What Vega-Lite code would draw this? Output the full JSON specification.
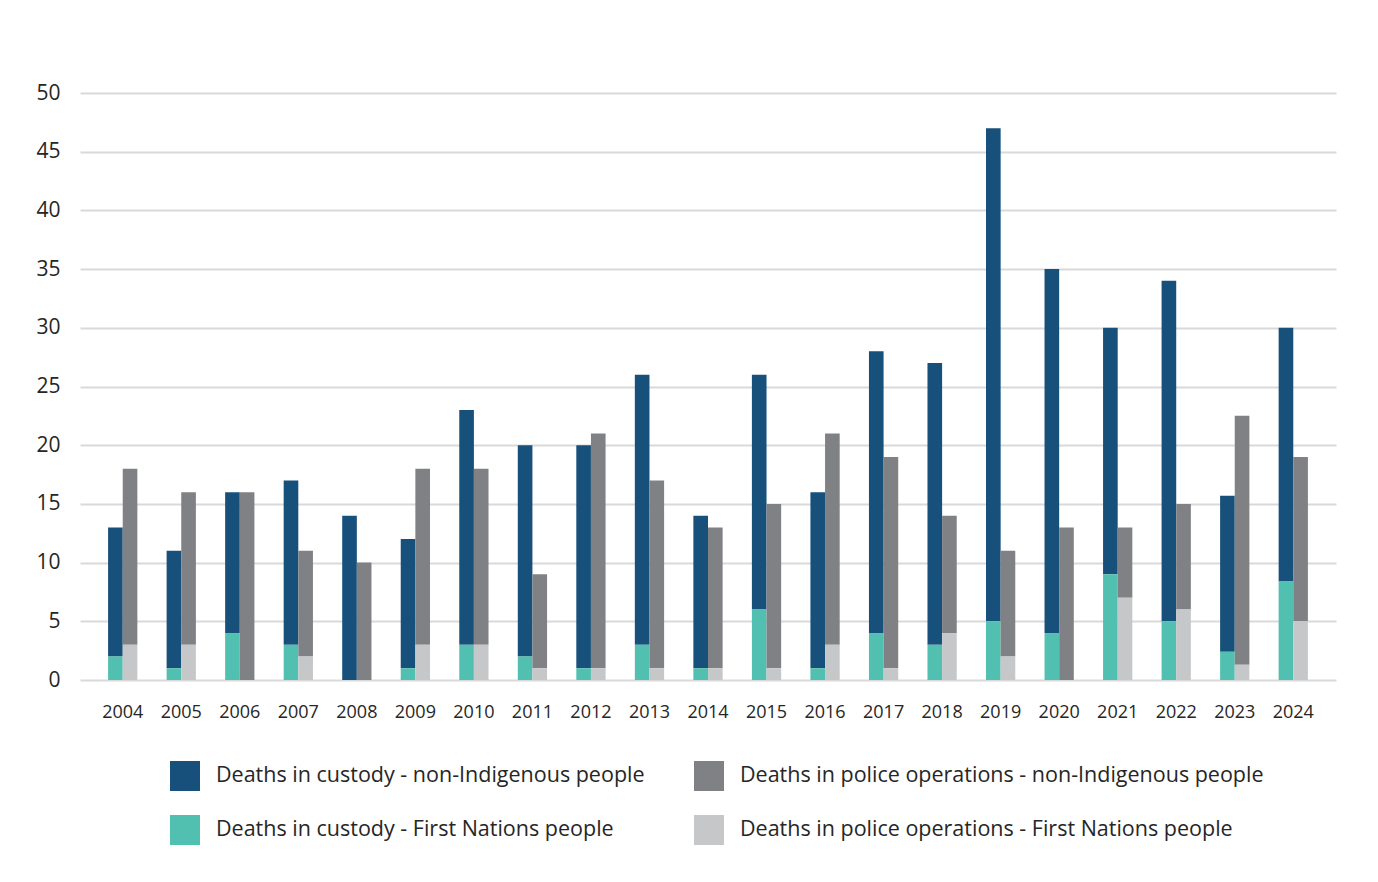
{
  "$schema": "https://vega.github.io/schema/vega-lite/v6.json",
  "autosize": {"type": "none"},
  "padding": {"left": 80, "top": 93, "right": 42, "bottom": 202},
  "width": 1256,
  "height": 587,
  "background": "white",
  "config": {
    "font": "Open Sans",
    "view": {"stroke": null}
  },
  "data": {
    "values": [
      {"year":"2004","g":"c","k":"cn","v":11},{"year":"2004","g":"c","k":"cf","v":2},{"year":"2004","g":"p","k":"pn","v":15},{"year":"2004","g":"p","k":"pf","v":3},
      {"year":"2005","g":"c","k":"cn","v":10},{"year":"2005","g":"c","k":"cf","v":1},{"year":"2005","g":"p","k":"pn","v":13},{"year":"2005","g":"p","k":"pf","v":3},
      {"year":"2006","g":"c","k":"cn","v":12},{"year":"2006","g":"c","k":"cf","v":4},{"year":"2006","g":"p","k":"pn","v":16},{"year":"2006","g":"p","k":"pf","v":0},
      {"year":"2007","g":"c","k":"cn","v":14},{"year":"2007","g":"c","k":"cf","v":3},{"year":"2007","g":"p","k":"pn","v":9},{"year":"2007","g":"p","k":"pf","v":2},
      {"year":"2008","g":"c","k":"cn","v":14},{"year":"2008","g":"c","k":"cf","v":0},{"year":"2008","g":"p","k":"pn","v":10},{"year":"2008","g":"p","k":"pf","v":0},
      {"year":"2009","g":"c","k":"cn","v":11},{"year":"2009","g":"c","k":"cf","v":1},{"year":"2009","g":"p","k":"pn","v":15},{"year":"2009","g":"p","k":"pf","v":3},
      {"year":"2010","g":"c","k":"cn","v":20},{"year":"2010","g":"c","k":"cf","v":3},{"year":"2010","g":"p","k":"pn","v":15},{"year":"2010","g":"p","k":"pf","v":3},
      {"year":"2011","g":"c","k":"cn","v":18},{"year":"2011","g":"c","k":"cf","v":2},{"year":"2011","g":"p","k":"pn","v":8},{"year":"2011","g":"p","k":"pf","v":1},
      {"year":"2012","g":"c","k":"cn","v":19},{"year":"2012","g":"c","k":"cf","v":1},{"year":"2012","g":"p","k":"pn","v":20},{"year":"2012","g":"p","k":"pf","v":1},
      {"year":"2013","g":"c","k":"cn","v":23},{"year":"2013","g":"c","k":"cf","v":3},{"year":"2013","g":"p","k":"pn","v":16},{"year":"2013","g":"p","k":"pf","v":1},
      {"year":"2014","g":"c","k":"cn","v":13},{"year":"2014","g":"c","k":"cf","v":1},{"year":"2014","g":"p","k":"pn","v":12},{"year":"2014","g":"p","k":"pf","v":1},
      {"year":"2015","g":"c","k":"cn","v":20},{"year":"2015","g":"c","k":"cf","v":6},{"year":"2015","g":"p","k":"pn","v":14},{"year":"2015","g":"p","k":"pf","v":1},
      {"year":"2016","g":"c","k":"cn","v":15},{"year":"2016","g":"c","k":"cf","v":1},{"year":"2016","g":"p","k":"pn","v":18},{"year":"2016","g":"p","k":"pf","v":3},
      {"year":"2017","g":"c","k":"cn","v":24},{"year":"2017","g":"c","k":"cf","v":4},{"year":"2017","g":"p","k":"pn","v":18},{"year":"2017","g":"p","k":"pf","v":1},
      {"year":"2018","g":"c","k":"cn","v":24},{"year":"2018","g":"c","k":"cf","v":3},{"year":"2018","g":"p","k":"pn","v":10},{"year":"2018","g":"p","k":"pf","v":4},
      {"year":"2019","g":"c","k":"cn","v":42},{"year":"2019","g":"c","k":"cf","v":5},{"year":"2019","g":"p","k":"pn","v":9},{"year":"2019","g":"p","k":"pf","v":2},
      {"year":"2020","g":"c","k":"cn","v":31},{"year":"2020","g":"c","k":"cf","v":4},{"year":"2020","g":"p","k":"pn","v":13},{"year":"2020","g":"p","k":"pf","v":0},
      {"year":"2021","g":"c","k":"cn","v":21},{"year":"2021","g":"c","k":"cf","v":9},{"year":"2021","g":"p","k":"pn","v":6},{"year":"2021","g":"p","k":"pf","v":7},
      {"year":"2022","g":"c","k":"cn","v":29},{"year":"2022","g":"c","k":"cf","v":5},{"year":"2022","g":"p","k":"pn","v":9},{"year":"2022","g":"p","k":"pf","v":6},
      {"year":"2023","g":"c","k":"cn","v":13.3},{"year":"2023","g":"c","k":"cf","v":2.4},{"year":"2023","g":"p","k":"pn","v":21.2},{"year":"2023","g":"p","k":"pf","v":1.3},
      {"year":"2024","g":"c","k":"cn","v":21.6},{"year":"2024","g":"c","k":"cf","v":8.4},{"year":"2024","g":"p","k":"pn","v":14},{"year":"2024","g":"p","k":"pf","v":5}
    ]
  },
  "mark": {"type": "bar"},
  "encoding": {
    "x": {
      "field": "year", "type": "nominal",
      "scale": {"paddingInner": 0.5, "paddingOuter": 0.48},
      "axis": {"title": null, "labelAngle": 0, "labelFontSize": 18, "labelColor": "#262626", "labelPadding": 23, "ticks": false, "domain": false}
    },
    "xOffset": {"field": "g", "type": "nominal", "scale": {"domain": ["c", "p"], "paddingInner": 0, "paddingOuter": 0}},
    "y": {
      "field": "v", "type": "quantitative", "stack": "zero",
      "scale": {"domain": [0, 50], "nice": false},
      "axis": {"title": null, "values": [0,5,10,15,20,25,30,35,40,45,50], "labelFontSize": 21, "labelColor": "#262626", "labelPadding": 20, "ticks": false, "domain": false, "gridColor": "#d9d9d9", "gridWidth": 2}
    },
    "order": {"field": "k", "type": "nominal", "sort": "ascending"},
    "color": {
      "field": "k", "type": "nominal",
      "scale": {"domain": ["cn", "cf", "pn", "pf"], "range": ["#17507a", "#52c0b0", "#808185", "#c6c7c9"]},
      "legend": {
        "title": null,
        "orient": "none",
        "legendX": 90,
        "legendY": 668,
        "columns": 2,
        "symbolType": "square",
        "symbolSize": 900,
        "symbolStrokeWidth": 0,
        "labelFontSize": 21.5,
        "labelColor": "#262626",
        "labelOffset": 16,
        "labelLimit": 700,
        "rowPadding": 24,
        "columnPadding": 49,
        "labelExpr": "{'cn':'Deaths in custody - non-Indigenous people','pn':'Deaths in police operations - non-Indigenous people','cf':'Deaths in custody - First Nations people','pf':'Deaths in police operations - First Nations people'}[datum.value]"
      }
    }
  }
}
